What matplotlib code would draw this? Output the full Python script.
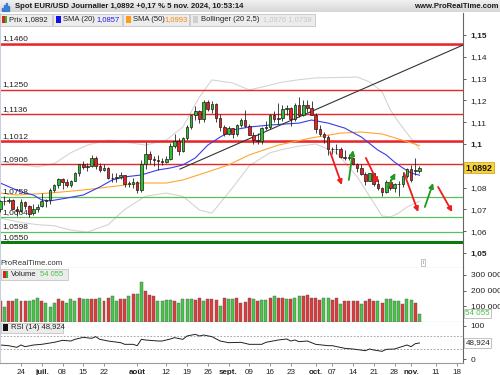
import numpy as np
import matplotlib
matplotlib.use("Agg")
import matplotlib.pyplot as plt
from matplotlib.patches import Rectangle

plt.rcParams['font.family'] = ['Liberation Sans', 'DejaVu Sans']

# ---------------- data ----------------
# trading-day index, 0 = 24 June 2024
days = list(range(-5, 97))

opens = [1.0703, 1.0737, 1.0737, 1.0743, 1.0702,
         1.0692, 1.0733, 1.0715, 1.0683, 1.0703, 1.0716, 1.0740, 1.0743, 1.0791, 1.0811,
         1.0840, 1.0826, 1.0814, 1.0830, 1.0865, 1.0907, 1.0894, 1.0899, 1.0937, 1.0897,
         1.0882, 1.0890, 1.0845, 1.0842, 1.0849, 1.0856, 1.0818, 1.0818, 1.0825, 1.0790,
         1.0910, 1.0953, 1.0932, 1.0925, 1.0920, 1.0917, 1.0932, 1.0993, 1.1012, 1.0969,
         1.1027, 1.1077, 1.1131, 1.1150, 1.1113, 1.1192, 1.1161, 1.1183, 1.1118, 1.1078,
         1.1048, 1.1073, 1.1045, 1.1088, 1.1112, 1.1084, 1.1040, 1.1017, 1.1012, 1.1075,
         1.1076, 1.1133, 1.1115, 1.1118, 1.1162, 1.1163, 1.1113, 1.1181, 1.1133, 1.1177,
         1.1164, 1.1135, 1.1068, 1.1046, 1.1032, 1.0975, 1.0975, 1.0979, 1.0940, 1.0936,
         1.0937, 1.0909, 1.0890, 1.0862, 1.0832, 1.0866, 1.0817, 1.0797, 1.0781, 1.0827,
         1.0797, 1.0815, 1.0817, 1.0855, 1.0884, 1.0875, 1.0874]
highs = [1.0745, 1.0762, 1.0752, 1.0748, 1.0714,
         1.0748, 1.0740, 1.0720, 1.0724, 1.0726, 1.0776, 1.0747, 1.0797, 1.0816, 1.0845,
         1.0845, 1.0838, 1.0834, 1.0872, 1.0910, 1.0920, 1.0911, 1.0948, 1.0943, 1.0911,
         1.0906, 1.0894, 1.0868, 1.0869, 1.0871, 1.0859, 1.0832, 1.0845, 1.0830, 1.0926,
         1.1009, 1.0967, 1.0945, 1.0948, 1.0935, 1.0944, 1.1005, 1.1047, 1.1027, 1.1034,
         1.1085, 1.1135, 1.1174, 1.1158, 1.1201, 1.1202, 1.1196, 1.1188, 1.1139, 1.1086,
         1.1082, 1.1073, 1.1090, 1.1119, 1.1155, 1.1090, 1.1056, 1.1050, 1.1080, 1.1104,
         1.1139, 1.1150, 1.1190, 1.1180, 1.1180, 1.1170, 1.1189, 1.1214, 1.1203, 1.1200,
         1.1199, 1.1144, 1.1086, 1.1055, 1.1043, 1.0985, 1.1000, 1.0986, 1.0973, 1.0953,
         1.0940, 1.0914, 1.0908, 1.0871, 1.0869, 1.0866, 1.0838, 1.0805, 1.0834, 1.0838,
         1.0822, 1.0831, 1.0871, 1.0889, 1.0905, 1.0937, 1.0900]
lows = [1.0690, 1.0718, 1.0728, 1.0700, 1.0671,
        1.0690, 1.0700, 1.0666, 1.0676, 1.0690, 1.0710, 1.0709, 1.0726, 1.0782, 1.0800,
        1.0792, 1.0801, 1.0803, 1.0828, 1.0851, 1.0887, 1.0876, 1.0893, 1.0887, 1.0872,
        1.0876, 1.0840, 1.0826, 1.0825, 1.0839, 1.0804, 1.0802, 1.0796, 1.0777, 1.0782,
        1.0887, 1.0909, 1.0900, 1.0883, 1.0905, 1.0912, 1.0925, 1.0982, 1.0950, 1.0963,
        1.1020, 1.1070, 1.1110, 1.1095, 1.1100, 1.1152, 1.1140, 1.1102, 1.1058, 1.1036,
        1.1040, 1.1026, 1.1035, 1.1078, 1.1076, 1.1040, 1.1002, 1.1002, 1.1000, 1.1066,
        1.1067, 1.1102, 1.1094, 1.1105, 1.1133, 1.1082, 1.1106, 1.1122, 1.1128, 1.1146,
        1.1133, 1.1050, 1.1036, 1.1005, 1.0951, 1.0955, 1.0952, 1.0938, 1.0926, 1.0925,
        1.0903, 1.0870, 1.0859, 1.0812, 1.0829, 1.0808, 1.0790, 1.0761, 1.0775, 1.0790,
        1.0778, 1.0761, 1.0803, 1.0844, 1.0827, 1.0860, 1.0868]
closes = [1.0737, 1.0737, 1.0743, 1.0702, 1.0692,
          1.0733, 1.0715, 1.0681, 1.0703, 1.0713, 1.0740, 1.0743, 1.0791, 1.0811, 1.0840,
          1.0826, 1.0814, 1.0830, 1.0865, 1.0907, 1.0894, 1.0899, 1.0937, 1.0897, 1.0882,
          1.0890, 1.0845, 1.0842, 1.0849, 1.0856, 1.0818, 1.0818, 1.0825, 1.0790, 1.0910,
          1.0953, 1.0932, 1.0925, 1.0920, 1.0917, 1.0932, 1.0993, 1.1012, 1.0969, 1.1027,
          1.1077, 1.1131, 1.1150, 1.1113, 1.1192, 1.1161, 1.1183, 1.1118, 1.1078, 1.1048,
          1.1073, 1.1045, 1.1088, 1.1112, 1.1084, 1.1040, 1.1017, 1.1012, 1.1075, 1.1076,
          1.1133, 1.1115, 1.1118, 1.1162, 1.1163, 1.1113, 1.1181, 1.1133, 1.1177, 1.1164,
          1.1135, 1.1068, 1.1046, 1.1032, 1.0975, 1.0975, 1.0979, 1.0940, 1.0936, 1.0937,
          1.0909, 1.0890, 1.0862, 1.0832, 1.0866, 1.0817, 1.0797, 1.0781, 1.0827, 1.0797,
          1.0815, 1.0817, 1.0855, 1.0884, 1.0833, 1.0882, 1.0892]

volumes = [137000, 98000, 133000, 133000, 146000, 133000, 137000, 137000, 143000, 154000,
           137000, 124000, 98000, 124000, 148000, 133000, 124000, 148000, 137000, 154000,
           146000, 148000, 148000, 146000, 154000, 137000, 154000, 165000, 133000, 148000,
           146000, 167000, 178000, 176000, 257000, 198000, 174000, 165000, 133000, 137000,
           143000, 141000, 137000, 122000, 148000, 148000, 148000, 143000, 154000, 133000,
           146000, 146000, 141000, 104000, 154000, 148000, 146000, 154000, 122000, 128000,
           154000, 148000, 137000, 141000, 143000, 154000, 167000, 154000, 154000, 148000,
           148000, 154000, 165000, 167000, 170000, 154000, 154000, 141000, 154000, 154000,
           143000, 154000, 115000, 137000, 133000, 133000, 133000, 115000, 137000, 146000,
           137000, 133000, 124000, 146000, 146000, 133000, 133000, 117000, 146000, 140000,
           120000, 54055]
vol_up = [0, 1, 0, 0, 1, 0, 0, 1, 1, 1, 0, 1, 1, 1, 0, 0, 1, 1, 1, 0,
          1, 1, 0, 0, 1, 0, 0, 1, 1, 0, 0, 1, 0, 1, 1, 0, 0, 0, 1, 1,
          1, 1, 0, 1, 1, 1, 1, 0, 0, 1, 0, 0, 0, 1, 0, 1, 1, 0, 0, 0,
          0, 1, 0, 1, 1, 0, 1, 0, 0, 1, 0, 1, 1, 0, 0, 0, 0, 0, 1, 1,
          0, 0, 1, 0, 0, 0, 0, 1, 0, 0, 0, 1, 0, 1, 1, 1, 1, 0, 1, 1,
          0, 1]

sma20_days = [-5, 0, 3, 5, 7, 11, 15, 19, 22, 25, 29, 33, 36, 39, 42, 45, 48, 51, 55,
              60, 67, 70, 74, 78, 82, 86, 88, 90, 92, 94, 96]
sma20_vals = [1.0821, 1.0780, 1.0766, 1.0743, 1.0739, 1.0752, 1.0766, 1.0803, 1.0835,
              1.0849, 1.0858, 1.0881, 1.0890, 1.0904, 1.0936, 1.0995, 1.1032, 1.1064,
              1.1078, 1.1087, 1.1096, 1.1110, 1.1096, 1.1073, 1.1032, 1.0972, 1.0950,
              1.0917, 1.0890, 1.0867, 1.0857]
sma50_days = [-5, -1, 7, 15, 23, 29, 35, 39, 45, 50, 55, 62, 70, 77, 82, 87, 91, 96]
sma50_vals = [1.0775, 1.0766, 1.0775, 1.0789, 1.0807, 1.0821, 1.0821, 1.0835, 1.0872,
              1.0904, 1.0950, 1.0995, 1.1028, 1.1050, 1.1055, 1.1046, 1.1023, 1.0993]

bb_days = [-5, 0, 4, 8, 12, 16, 21, 25, 30, 35, 39, 43, 46, 51, 55, 60, 63, 67, 71,
           76, 81, 84, 87, 89, 91, 93, 96]
bb_up = [1.0920, 1.0905, 1.0895, 1.0910, 1.0960, 1.0995, 1.1018, 1.1009, 1.0995, 1.1018,
         1.1078, 1.1216, 1.1294, 1.1280, 1.1248, 1.1270, 1.1284, 1.1295, 1.1303, 1.1305,
         1.1307, 1.1285, 1.1240, 1.1156, 1.1100, 1.1050, 1.0976]
bb_low = [1.0660, 1.0640, 1.0630, 1.0625, 1.0605, 1.0596, 1.0630, 1.0700, 1.0760, 1.0775,
          1.0760, 1.0697, 1.0683, 1.0800, 1.0900, 1.0960, 1.0975, 1.0990, 1.1000, 1.0960,
          1.0850, 1.0760, 1.0670, 1.0665, 1.0683, 1.0711, 1.0738]

rsi_days = [-5, -3, -1, 0, 1, 3, 5, 8, 10, 12, 13, 15, 17, 18, 19, 21, 24, 25, 27, 28,
            29, 30, 33, 34, 36, 37, 39, 40, 42, 43, 44, 46, 48, 50, 53, 55, 58, 59, 62,
            64, 65, 66, 67, 69, 71, 74, 75, 78, 80, 83, 84, 85, 87, 88, 90, 91, 93, 94,
            95, 96]
rsi_vals = [43, 41, 36, 43, 38, 43, 45, 51, 57, 55, 60, 66, 63, 68, 60, 55, 50, 45, 45, 41,
            60, 58, 55, 55, 61, 65, 60, 70, 75, 70, 73, 68, 55, 50, 51, 45, 45, 51, 58,
            61, 55, 58, 53, 55, 45, 41, 41, 33, 31, 26, 31, 28, 24, 30, 31, 35, 43, 38,
            47, 49]

levels_red = [1.1460, 1.1250, 1.1136, 1.1012, 1.0906]
levels_green = [1.0758, 1.0664, 1.0598, 1.0550]
level_labels = ["1,1460", "1,1250", "1,1136", "1,1012", "1,0906",
                "1,0758", "1,0664", "1,0598", "1,0550"]

trend_days = [38.3, 106.5]
trend_vals = [1.0885, 1.1454]

# arrows: (start day, start price, end day, end price)
arrows_red = [(74.5, 1.0963, 77.3, 1.0812),
              (83.1, 1.0936, 86.0, 1.0821),
              (92.3, 1.0867, 95.7, 1.0688),
              (100.5, 1.0803, 103.9, 1.0688)]
arrows_green = [(79.0, 1.0835, 80.0, 1.0972),
                (88.4, 1.0803, 90.2, 1.0867),
                (97.3, 1.0711, 99.3, 1.0821)]

tick_days = [0, 5, 10, 15, 20, 28, 35, 40, 45, 50, 55, 60, 65, 71, 75, 80, 85, 90, 94, 100, 105]
tick_text = ["24", "juil.", "08", "15", "22", "août", "12", "19", "26", "sept.", "09", "16",
             "23", "oct.", "07", "14", "21", "28", "nov.", "11", "18"]
month_ticks = ["juil.", "août", "sept.", "oct.", "nov."]

price_ticks = [1.05, 1.06, 1.07, 1.08, 1.10, 1.11, 1.12, 1.13, 1.14, 1.15]
price_tick_text = ["1,05", "1,06", "1,07", "1,08", "1,1", "1,11", "1,12", "1,13", "1,14", "1,15"]

# ---------------- layout helpers ----------------
W, H = 500, 375
def fx(x):
    return x / W
def fy(y):
    return 1 - y / H

RED = "#e8262a"
XL = (-5.06, 106.5)

fig = plt.figure(figsize=(5, 3.75), dpi=100)
fig.patch.set_facecolor("white")

ax_p = fig.add_axes([0, fy(267.6), fx(463), (267.6 - 13) / H])
ax_v = fig.add_axes([0, fy(322), fx(463), (322 - 267.6) / H])
ax_r = fig.add_axes([0, fy(363), fx(463), (363 - 322) / H])

for ax in (ax_p, ax_v, ax_r):
    ax.set_xlim(*XL)
    ax.set_facecolor("white")
    ax.spines["top"].set_visible(False)
    ax.spines["left"].set_color("#c8d0dc")
    ax.spines["left"].set_linewidth(0.8)
    ax.spines["right"].set_color("#666666")
    ax.spines["right"].set_linewidth(0.8)
    ax.spines["bottom"].set_color("#9a9a9a")
    ax.spines["bottom"].set_linewidth(0.8)
    ax.yaxis.tick_right()
    ax.tick_params(axis="y", length=2.5, width=0.6, colors="#444444", labelsize=6,
                   pad=3, labelcolor="#222222")
    ax.tick_params(axis="x", length=0, labelbottom=False)

# ---------------- price panel ----------------
ax_p.set_ylim(1.0433, 1.1601)

ax_p.plot(bb_days, bb_up, color="#d4d4d4", lw=0.8, zorder=1)
ax_p.plot(bb_days, bb_low, color="#d4d4d4", lw=0.8, zorder=1)
ax_p.plot(sma50_days, sma50_vals, color="#ffa531", lw=0.8, zorder=2)
ax_p.plot(sma20_days, sma20_vals, color="#3a3af0", lw=0.8, zorder=2)

for lv in levels_red:
    lw = 1.8 if lv in (1.1460, 1.1012) else 1.0
    if lv in (1.1460, 1.1012):
        ax_p.axhline(lv - 0.0004, color="#f6b8b8", lw=1.2, zorder=1)
    ax_p.axhline(lv, color=RED, lw=lw, zorder=1.5)
for lv in levels_green:
    if lv == 1.0550:
        ax_p.axhline(lv, color="#0a7a0a", lw=2.2, zorder=1.5)
    else:
        ax_p.axhline(lv, color="#5cc05c", lw=0.9, zorder=1.5)
for lv, txt in zip(levels_red + levels_green, level_labels):
    ax_p.text(-4.6, lv + 0.0007, txt, fontsize=6, color="#222222", va="bottom",
              ha="left", zorder=4)

ax_p.plot(trend_days, trend_vals, color="#333333", lw=0.8, zorder=2)

# candles
o = np.array(opens); c = np.array(closes); hi = np.array(highs); lo = np.array(lows)
up = c >= o
ax_p.vlines(days, lo, hi, color="#222222", lw=0.6, zorder=3)
body_lo = np.minimum(o, c)
body_h = np.maximum(np.abs(c - o), 0.00025)
cols = np.where(up, "#2fc02f", "#e82020")
ax_p.bar(days, body_h, bottom=body_lo, width=0.62, color=cols, edgecolor="#1a1a1a",
         linewidth=0.5, zorder=3.5)

for a in arrows_red:
    ax_p.annotate("", xy=(a[2], a[3]), xytext=(a[0], a[1]),
                  arrowprops=dict(arrowstyle="-|>", color="#ee1c1c", lw=1.3,
                                  mutation_scale=7, shrinkA=0, shrinkB=0), zorder=5)
for a in arrows_green:
    ax_p.annotate("", xy=(a[2], a[3]), xytext=(a[0], a[1]),
                  arrowprops=dict(arrowstyle="-|>", color="#1f9a1f", lw=1.3,
                                  mutation_scale=7, shrinkA=0, shrinkB=0), zorder=5)

ax_p.set_yticks(price_ticks)
ax_p.set_yticklabels(price_tick_text)
for lab in ax_p.get_yticklabels():
    if lab.get_text() in ("1,15", "1,1", "1,05"):
        lab.set_fontweight("bold")
ax_p.text(1.005, closes[-1], "1,0892", transform=ax_p.get_yaxis_transform(),
          fontsize=6.3, fontweight="bold", va="center", ha="left", color="#111111",
          bbox=dict(boxstyle="square,pad=0.15", fc="#f7d23a", ec="#c8a010", lw=0.5),
          clip_on=False)

ax_p.text(-4.9, 1.0436, "ProRealTime.com", fontsize=5.6, color="#333333", va="bottom")
ax_p.text(96.9, 1.0445, "i", fontsize=4.5, color="#888888", va="bottom", ha="center",
          bbox=dict(boxstyle="square,pad=0.2", fc="white", ec="#aaaaaa", lw=0.5))

# ---------------- volume panel ----------------
ax_v.set_ylim(0, 347000)
vcol = ["#45c845" if u else "#e23a3a" for u in vol_up]
ax_v.bar(days, volumes, width=0.72, color=vcol, edgecolor="#555555", linewidth=0.3)
ax_v.set_yticks([100000, 200000, 300000])
ax_v.set_yticklabels(["100 000", "200 000", "300 000"])
ax_v.text(1.005, volumes[-1], "54 055", transform=ax_v.get_yaxis_transform(),
          fontsize=5.8, va="center", ha="left", color="#44c244",
          bbox=dict(boxstyle="square,pad=0.15", fc="white", ec="#aaaaaa", lw=0.5),
          clip_on=False)

# ---------------- RSI panel ----------------
ax_r.set_ylim(-11, 112)
ax_r.axhline(70, color="#999999", lw=0.6, ls=(0, (2, 2)))
ax_r.axhline(30, color="#999999", lw=0.6, ls=(0, (2, 2)))
ax_r.plot(rsi_days, rsi_vals, color="#222222", lw=0.7)
ax_r.set_yticks([0, 100])
ax_r.set_yticklabels(["0", "100"])
ax_r.text(1.005, rsi_vals[-1], "48,924", transform=ax_r.get_yaxis_transform(),
          fontsize=5.8, va="center", ha="left", color="#222222",
          bbox=dict(boxstyle="square,pad=0.15", fc="white", ec="#aaaaaa", lw=0.5),
          clip_on=False)

ax_r.set_xticks(tick_days)
ax_r.set_xticklabels(tick_text)
ax_r.tick_params(axis="x", length=2, width=0.5, colors="#666666", labelsize=5.8,
                 labelbottom=True, pad=2, labelcolor="#222222")
for lab in ax_r.get_xticklabels():
    if lab.get_text() in month_ticks:
        lab.set_fontweight("bold")

# ---------------- header bar & legends ----------------
ax_t = fig.add_axes([0, fy(12.5), 1, 12.5 / H])
grad = np.linspace(0.95, 0.84, 20).reshape(-1, 1)
ax_t.imshow(grad, aspect="auto", cmap="gray", vmin=0, vmax=1, extent=[0, 1, 0, 1])
ax_t.set_axis_off()
for k, hgt in enumerate([0.35, 0.6, 0.85, 0.5]):
    ax_t.add_patch(Rectangle((0.004 + k * 0.004, 0.15), 0.0025, hgt * 0.7,
                             color="#3a7bd5"))
ax_t.text(0.03, 0.5, "Spot EUR/USD Journalier 1,0892 +0,17 % 5 nov. 2024, 10:53:14",
          fontsize=5.6, fontweight="bold", va="center", ha="left", color="#1a1a1a")
ax_t.text(0.997, 0.5, "www.ProRealTime.com", fontsize=5.6, fontweight="bold",
          va="center", ha="right", color="#1a1a1a")

def legend_box(x0, x1, y0, y1):
    fig.patches.append(Rectangle((fx(x0), fy(y1)), fx(x1 - x0), (y1 - y0) / H,
                                 transform=fig.transFigure, fc="#ececec",
                                 ec="#c4c4c4", lw=0.6, zorder=10))

def swatch(x, y, color, color2=None):
    fig.patches.append(Rectangle((fx(x), fy(y + 3.5)), fx(5), 7 / H,
                                 transform=fig.transFigure, fc=color, ec="none",
                                 zorder=11))
    if color2:
        fig.patches.append(Rectangle((fx(x + 2.5), fy(y + 3.5)), fx(2.5), 7 / H,
                                     transform=fig.transFigure, fc=color2, ec="none",
                                     zorder=11))

def ftext(x, y, s, color="#222222", **kw):
    fig.text(fx(x), fy(y), s, fontsize=5.5, color=color, va="center", ha="left",
             zorder=12, **kw)

ly = 19.5
legend_box(0, 52, 13.5, 26)
swatch(2, ly, "#e02020", "#2ab82a")
ftext(9, ly, "Prix 1,0892")
legend_box(53, 122, 13.5, 26)
swatch(56, ly, "#1010ee")
ftext(63, ly, "SMA (20)")
ftext(96, ly, "1,0857", color="#2020e0")
legend_box(123, 189, 13.5, 26)
swatch(126, ly, "#ff9a1a")
ftext(133, ly, "SMA (50)")
ftext(164, ly, "1,0993", color="#f08a10")
legend_box(190, 315, 13.5, 26)
swatch(193, ly, "#cfcfcf")
ftext(201, ly, "Bollinger (20 2,5)")
ftext(263, ly, "1,0976 1,0738", color="#c8c8c8")

vy = 274
legend_box(1, 68, 268.5, 279.5)
swatch(3, vy, "#e02020", "#2ab82a")
ftext(11, vy, "Volume")
ftext(40, vy, "54 055", color="#44c244")

ry = 327.5
legend_box(1, 63, 322.5, 333)
swatch(3, ry, "#111111")
ftext(11, ry, "RSI (14) 48,924")

fig.savefig("out.png", dpi=100, facecolor="white")
